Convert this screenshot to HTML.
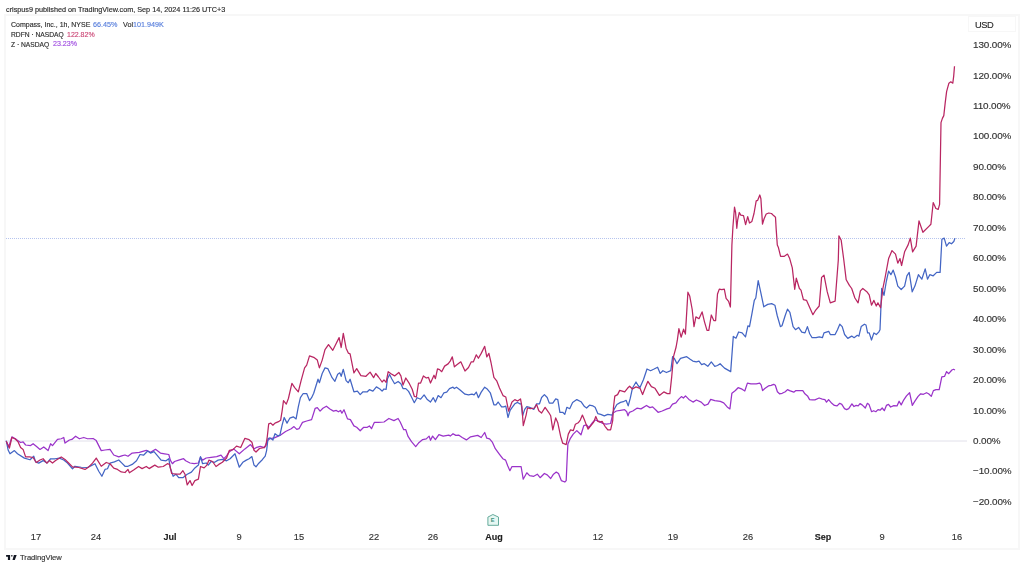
<!DOCTYPE html>
<html><head><meta charset="utf-8"><style>
html,body{margin:0;padding:0;}
body{width:1024px;height:568px;overflow:hidden;position:relative;background:#fff;font-family:"Liberation Sans",sans-serif;}
.frame{position:absolute;left:4px;top:14.2px;width:1016px;height:535.5px;background:#fff;border:2px solid #f7f7f7;box-sizing:border-box;}
.usd{position:absolute;left:968px;top:16.3px;width:47.6px;height:16.2px;border:1px solid #f7f7f7;box-sizing:border-box;}
.t{position:absolute;white-space:nowrap;font-family:"Liberation Sans",sans-serif;-webkit-text-stroke:0.15px currentColor;will-change:transform;}
.chart{position:absolute;left:0;top:0;}
</style></head><body>
<div class="frame"></div><div class="usd"></div>
<svg class="chart" width="1024" height="568" viewBox="0 0 1024 568">
<line x1="5" y1="441" x2="967" y2="441" stroke="#e1e0ea" stroke-width="1"/>
<line x1="6" y1="238.5" x2="966" y2="238.5" stroke="#b6c4ee" stroke-width="1" stroke-dasharray="1 1"/>
<polyline fill="none" stroke="#9a33c9" stroke-width="1.25" stroke-linejoin="round" points="6.25,441.25 8.75,446.9 11.9,436.9 16.25,439.4 20.6,442.5 23.1,441.9 25.6,445 30.6,445.6 33.1,443.75 36.25,446.25 40,449.4 43.75,446.9 48.1,450.6 50.6,443.75 52.5,445.6 57.5,439.4 61.25,438.75 63.75,437.5 65,443.1 69.4,440 71.9,439.4 75.6,436.25 79.4,438.75 83.75,437.5 87.5,438.75 93.1,438.5 96.25,440.6 101.25,450.6 105,450 110,449.4 113.75,455 118.75,456.9 122.5,455.6 125,455 128,456.25 132.2,453.1 139.3,452.4 146.3,450.3 150.5,452.4 155.5,449.3 160.4,453.1 164.6,453.8 168.8,454.5 170.3,460.1 172.4,463.7 174.5,461.5 178.7,460.1 183.6,458.7 185.7,460.8 190,463 194.2,463.7 198.4,463 200.5,457.3 202.6,460.1 206.2,458 211.1,457.3 216.7,456.6 221,455.2 223.8,458.7 226.6,455.9 229.4,451.7 233.6,448.9 239.3,453.8 244.9,448.9 250.5,444.6 254,448.9 256,447.7 260.2,446.3 264.5,447.7 267.3,440.7 270.1,438.6 274.3,437.9 280.6,435.1 285.6,431.5 291.2,428.7 294,426.6 296.8,429.4 299,428.7 302.5,422.4 306.7,421 311.6,419.6 315.2,408.3 317.3,407.6 320.1,411.1 322.9,408.3 326.4,406.2 329.9,409 333.5,411.1 336.3,410.4 338.4,411.8 340.5,410.4 341.9,413.2 344,409.7 347.5,418.9 350.4,419.6 353.9,425.9 356.7,427.3 360.2,430.8 363.7,427.3 367.3,427.3 369.4,425.9 371.5,428.7 374.3,422.4 378.5,422.4 384,422 388.9,418.5 393.9,420.6 398.1,418.5 400.2,422 403.7,429.7 405.8,429.7 407.9,436.1 411.5,441.7 415.7,446.6 418.5,443.1 422.7,439.6 426.3,438.9 429.1,436.1 430.5,440.3 432.6,436.1 435.4,439.6 438.9,434.6 443.2,436.1 448.8,435.1 450.2,436.1 453,433.7 455.8,435.4 458.6,435.1 462.2,437.5 466.4,439.9 470.6,436.8 474.1,436.1 477.7,435.4 481.2,437.5 484.7,432.5 486.8,438.2 489.6,438.9 492.5,442.4 495.3,448.7 499.5,454.4 502.8,458.7 505.6,460.1 507.7,465.8 509.9,470.7 512,466.5 515.5,466.5 521.1,466.5 523.2,479.2 526.8,472.8 529.6,475.6 533.8,476.3 537.3,474.2 540.1,477.7 544.4,473.5 547.2,474.9 550.7,478.5 553.5,474.2 556.3,472.1 558.5,473.5 561.3,480.6 564.8,482 566.2,480.6 567.3,455.2 567.9,443.9 570.4,438.3 573.2,434.1 576.8,430.6 581,434.8 583.8,425.6 586.6,424.9 588.7,427.7 592.3,422.8 595.1,420 599.3,421.4 602.8,423.5 606.4,424.2 610.6,423.5 613,413 616.4,411 620.5,410.3 624.6,409.6 626.7,411.7 628,415.8 629.4,412.3 632.8,411 636.9,408.2 641,408.9 646.5,405.5 649.9,407.6 652.6,406.9 656.1,410.3 658.1,412.3 662.2,411 667,408.9 669.7,408.2 672.5,404.1 675.9,402.8 678.6,399.4 681.4,396.6 683.4,398 685.5,395.9 688.9,399.4 693,402.1 696.4,400 701.2,402.1 704.6,405.5 708,404.1 710.7,399.4 714.8,400.7 720.3,401.4 723.7,402.8 727.2,406.9 729.9,408.9 731.9,393.2 735.4,390.5 738.1,387.7 742.1,389.2 744.8,391 747.4,383.1 750.9,383.9 756.2,383.9 759.7,383.1 761.1,384.8 762.6,390.6 764.8,388.5 768.4,385.9 771.1,385.3 773.7,384.3 775.3,385.3 777.4,391.7 779.5,393.8 782.2,393.3 785.3,391.7 787.5,389.6 789.6,390.6 793.8,392.2 795.9,390.6 798.5,390.6 802.8,390.6 804.9,393.8 807.5,395.9 809.6,399.6 812.3,399.9 814.9,399.9 819.1,398 822.3,399.1 824.9,399.6 826.5,402.2 828.6,399.6 831.8,403.3 834.4,405.4 837.1,405.9 839.7,403.3 841.8,404.4 844.5,408.6 846.6,409.6 848.7,408.6 851.9,403.8 854,406.5 856.1,405.4 858.2,405.9 860,403.6 862.1,404.9 865.3,408 867.4,403.3 869,404.4 871.6,411.7 873.7,410.7 875.8,411.7 878,409.6 880.1,410.2 882.2,408 884.3,410.7 886.4,405.4 888.5,404.4 890.6,407 893.8,405.6 897,405.9 899.1,401.2 901.2,404.9 903.3,400.7 906.5,395.9 909.6,392.7 912.3,405.4 914.9,401.2 918.1,396.4 920.7,393.8 923.4,394.3 926.5,392.7 928.6,393.8 931.3,396.4 933.4,390.6 936,389.6 939.2,389.6 941.8,376.9 944.5,376.4 946.6,371.6 948.7,373.7 951.9,370 953.5,369.3 955,370"/>
<polyline fill="none" stroke="#4365c4" stroke-width="1.25" stroke-linejoin="round" points="6.25,440.6 8.1,450 10,453.75 14.4,450.6 17.5,453.75 24.4,458.1 30,459.75 33.75,456.25 35.6,461.9 38.75,463.1 43.1,460.6 46.9,463.1 50.6,458.75 55,458.75 59.4,458.1 63.75,460 67.5,463.1 72.5,468.75 75,466.25 81.25,467.25 87.5,467.5 91.25,465.6 95,463.75 98.75,471.25 101.9,476.25 105,469.4 107.5,468.75 110,463.1 114.4,461.9 118.75,460 121.9,463.1 125,466.25 128,466.25 132.2,464.4 136.5,460.8 140,454.5 143.5,455.2 147.7,451 150.5,453.1 154,451.7 157.6,455.9 161.1,460.1 166,460.8 168.8,458.7 170.3,467.9 173.1,476.3 175.9,474.2 178.7,477.7 182.9,477.7 187.2,474.2 191.4,472.1 194.9,467.9 198.4,465.1 200.5,456.6 202.6,463.7 206.2,463 208.3,465.1 211.1,461.5 214.6,462.3 218.1,460.1 222.4,459.4 226.6,460.8 230.1,458.7 235,453.8 239.3,467.2 242.8,462.3 246.3,460.1 249.1,458.7 251.9,456.6 254,465.1 256,466.8 258.8,463.2 262.3,459.7 265.2,456.2 266.6,450.6 268,438.6 270.1,437.9 272.9,440 275,433.7 277.8,435.8 279.9,435.1 282.1,425.2 284.2,417.5 287,423.1 289.8,418.2 293.3,416.8 296.1,418.9 298.3,406.9 300.4,397.7 303.2,393.5 306.7,393.5 309.5,400.6 311.6,397.7 313.7,393.2 318,379.2 319.4,382.7 322.2,373.5 325,367.9 327.8,368.6 332.1,377.7 334.9,381.3 337.7,374.2 339.8,372.8 341.2,376.3 343.3,369.3 346.1,380.6 348.3,382.7 350.1,379.2 353.9,391.8 357.4,391.1 360.2,394.6 363,391.8 367.3,391.8 369.4,389.7 372.9,391.1 376.4,386.9 379.9,389 382.1,391.1 384,389 386.1,389.3 387.5,378.7 389.6,374.5 391.7,378.7 394.6,383.7 398.1,381.5 400.9,383.7 403,388.6 405.8,388.6 408.6,391.4 411.5,397 414.3,402.7 417.1,397.7 420.6,399.2 424.1,394.9 427,399.2 430.5,402 433.3,397.7 435.4,402 438.2,395.6 441,397.7 443.9,392.8 446.7,392.1 449.5,388.6 453,387.2 454.4,388.6 456.5,387.2 460.1,390 465,394.2 468.5,394.9 472,394.2 474.1,394.9 476.3,392.1 478.4,397.7 481.2,392.1 484.7,387.2 487.5,389.3 490.3,392.8 493.9,404.8 496,404.8 498.1,402 501.6,406.9 503.7,406.9 505.8,406.2 508,417.5 510.1,410.4 512,407.6 514.8,403.8 517.6,402.4 519.7,403.8 521.2,403.8 522.6,415.8 524.7,409.4 526.8,406.6 529.6,407.3 533.8,409.4 536.6,403.8 539.5,403.8 541.6,397.5 544.4,394.6 547.2,397.5 549.3,403.1 552.8,403.1 555.7,398.9 557.8,399.6 559.9,412.3 562.7,412.3 564.8,414.4 566.9,407.3 569.7,408.7 572.6,402.4 576.8,399.6 581,401.7 584.5,406.6 586.6,408 589.5,405.2 593,405.9 595.1,407.3 597.9,413.7 600.7,414.4 604.3,415.8 607.8,414.4 612,415.1 614.1,409.4 616.9,404.5 620.5,402.4 623.3,401.7 626.1,400.3 628.2,405.9 630.3,398.2 632.4,388.3 636,382 638.1,385.5 640,387.5 643.5,379.5 647,369 650.6,370.7 654.1,369 657.6,367.2 660.2,373.4 662.9,370.7 666.4,372.5 670.8,370.7 672.6,356.7 674.3,358.4 677,363.7 680.5,358.4 686.7,356.7 690.2,359.3 692.8,361.1 696.3,361.9 699,361.1 701.6,364.6 704.3,363.7 707.8,366.3 711.3,361.9 714.8,366.3 717.5,365.5 720.1,363.7 724.5,368.1 730.7,371.6 733.3,336.4 736,338.2 738.6,332 742.1,332.9 745.5,336.9 747.9,325.8 749.5,326.6 751.9,313.9 754.3,300.4 755.8,298 758.2,280.6 760.6,291.7 763.8,306.8 767.7,304.4 771.7,303.6 774.9,305.2 777.2,315.5 780.4,326.6 782,325.8 785.2,315.5 787.5,309.1 789.9,312.3 793.1,326.6 795.5,329.7 798.6,327.4 801.8,332.1 805,332.9 807.4,326.6 809.7,333.7 812.1,337.7 816.1,337.7 819.2,336.9 822.4,337.7 824,332.9 826.4,332.1 828.7,331.3 830.3,334.5 835.1,334.5 837.5,329.7 839.8,324.2 842.2,326.6 844.6,334.5 847.8,338.4 851.7,336.1 854.1,337.7 857.3,335.3 858.9,336.1 861.2,326.6 864.4,324.2 866,325 867.6,332.9 869.2,332.9 871.5,340 873.9,332.9 876.3,334.5 878.7,332.1 880,329.7 881.7,288.4 884,295.3 886.3,281.5 888.6,271.2 890.9,274.7 893.2,270.1 895.5,277 897.8,286.1 901.2,289.5 904.6,286.1 906.9,275.8 909.2,272.4 912.2,291.8 914.9,286.1 918.4,274.7 921.8,279.2 925.2,268.9 927.5,279.2 929.8,274.7 933.2,275.8 936.7,272.4 940.1,272.4 941.9,239.2 944.2,238.1 946.5,246.1 949.2,242.6 951.5,243.8 953.8,241.5 955,238.1"/>
<polyline fill="none" stroke="#b92662" stroke-width="1.25" stroke-linejoin="round" points="6.25,441.25 9.4,448.1 11.9,437.5 15,438.75 18.1,441.9 20.6,447.5 23.1,449.4 25.6,456.9 29.4,456.9 33.1,457.5 36.25,462.5 40,460 43.1,458.75 46.9,463.1 49.4,460.6 52.5,463.1 55.6,460.6 61.25,456.9 65,459.4 68.1,462.5 72.5,466.9 78.75,467.5 85,469.4 88.75,466.9 92.5,463.1 96.25,458.1 101.25,466.25 106.25,462.5 110,463.75 113.75,468.1 117.5,469.4 121.25,471.9 125,472.5 128,469.4 129.4,472.8 133.6,470 138.6,466.5 142.1,468.6 146.3,466.5 149.1,468.6 154.8,465.1 158.3,467.2 163.2,466.5 167.4,463.7 169.5,464.4 171.7,473.5 175.9,474.2 180.1,474.2 182.9,470.7 185,474.2 187.2,484.8 190,480.6 192.1,485.5 194.9,480.6 198.4,479.2 200.5,466.5 204.1,467.9 206.9,465.1 209,460.1 212.5,461.5 216,466.5 218.8,464.4 222.4,462.3 226.6,458 229.4,450.3 232.9,449.6 236.5,446.1 240.7,447.5 244.9,438.3 249.1,439.7 251.9,442.2 254,450.3 256,452 259.5,448.5 263.7,447.7 265.9,445.6 267.3,436.5 268.7,423.8 270.8,423.1 272.9,425.2 275,423.1 278.5,421.7 280.6,420.3 282.1,411.1 283.5,400.6 286.3,404.1 288.4,398.5 291.9,383.4 294.7,387.6 298.3,391.8 301.1,380.6 304.6,367.9 306.7,365.1 309.5,355.9 313.7,357.3 317.3,360.1 319.4,367.9 322.2,360.1 325,349.6 328.5,344.6 332.8,350.3 336.3,343.2 339.1,337.6 341.2,347.5 343.3,333.4 346.1,348.2 348.3,353.1 350.1,353.8 353.9,372.8 356.7,368.6 360.9,375.6 365.9,376.3 370.1,372.1 373.6,377.7 375.7,373.5 378.5,377 382.1,382 384,379.9 386.1,382.3 388.2,371.7 391,373.8 394.6,375.9 398.8,372.4 400.9,375.9 403,385.1 405.8,378 409.4,383.7 412.2,389.3 414.3,396.3 416.4,397 418.5,383 420.6,383 423.4,375.9 426.3,378 428.4,377.3 430.5,383 434,375.2 435.4,378.7 437.5,368.9 439.6,369.6 441.7,371.7 444.6,366.1 448.1,363.9 450.2,361.1 452.3,356.9 454.4,366.8 457.2,364.6 460.8,361.8 465,371 468.5,367.5 471.3,361.8 473.4,361.8 476.3,354.8 478.4,358.3 481.2,353.4 484.7,346.3 486.8,356.9 488.9,353.4 491,362.5 493.9,377.3 496.7,380.8 499.5,387.9 503,395.6 505.8,397 508.6,411.1 512,402 514.8,399.6 517.6,401 520.5,398.9 521.9,406.6 523.3,425.6 526.1,415.1 527.5,408 530.3,408.7 534.5,408 536.6,404.5 538.8,410.8 541.6,413 545.1,407.3 548.6,412.3 550.7,415.8 552.8,429.9 555.7,417.9 557.8,422.8 560.6,436.2 562.7,443.2 566.2,444.6 568.3,434.1 570.5,429.9 573.3,430.6 575.4,424.2 578.2,422.8 580.3,420 582.4,415.1 584.5,420 586.6,425.6 588.1,429.2 590.9,425.6 593.7,422.1 595.8,416.5 597.9,421.4 600,422.1 602.1,421.4 605,426.3 607.8,429.9 610.6,429.9 612.7,420.7 613.4,408 614.8,396.1 617.6,394.6 619.7,390.4 624.7,391.8 627.5,388.3 629.6,386.2 632.4,389 636,386.9 640,388.3 642.6,394.5 645.3,387.5 647.9,381.3 651.4,386.6 655,388.3 659.4,395.4 663.8,391.9 667.3,393.6 669.9,393.6 671.7,376.9 673.5,356.7 676.1,347 677.4,339.7 678.9,328.6 681.1,337.2 683.6,329.2 685.4,334.1 687.9,292.2 689.7,295.9 692.2,309.5 694,326.7 695.9,316.9 699,318.7 702.1,311.9 704.5,321.8 707,330.4 708.8,330.4 711.3,315 713.8,320.6 715.6,320.6 717.5,294 719.3,289.1 721.8,289.7 724.3,289.1 726.1,298.4 728.6,301.4 730.4,307 731.9,245 732.9,227.2 734.5,207.2 735.6,212.5 736.8,228.3 737.7,219.8 739.3,212.5 740.8,215.1 743.5,215.6 745.6,224.6 747.7,216.7 749.5,223 751.9,221.4 754,213.5 756.2,200.8 757.7,200.3 759.8,195 760.9,198.7 762.5,224.1 764.1,218.8 766.2,214 768.8,213 771.5,213.5 773.6,215.6 775.5,217.2 776.2,229.4 777.3,245 778.3,247.2 780.6,256.4 784,256.4 787.5,254.1 789.7,258.6 792.3,267.9 794.7,289.3 796.3,278.2 799.4,288.5 801,290.1 803.4,299.6 806.6,300.4 809.7,307.5 812.9,314.7 815.3,310.7 819.2,306 821.6,277.4 824,275.1 827.2,291.7 830.3,302.8 835.1,301.2 838.3,260 838.9,235.8 841.2,240.3 843.8,260 846.2,279.8 849.4,285.4 851.7,288.5 854.9,298 858.1,302.8 860.4,290.9 862.8,288.5 866.8,291.7 869.2,294.9 871.5,305.2 873.9,300.4 876.3,306 877.9,302.8 880.6,307.8 882.9,288.4 885.2,277 888.6,258.6 892,250.6 895.5,254.1 897.8,263.2 900,258.6 901.6,265.5 904.6,251.8 908.1,244.9 910.3,238.1 912.6,251.8 916.1,246.1 919,220.9 922.9,232.3 928.6,226.6 930.9,224.3 933.2,202.6 935.9,208.5 938.2,209.4 939.6,204.3 941,122.6 942.4,118.4 943.8,115.6 945.2,102.9 946.6,91.6 948.9,83.2 950.8,81.8 952.8,83.2 953.7,76.1 954.5,66.3"/>
<g transform="translate(493.2,520)">
<path d="M-5.3,-2.9 L-0.3,-5.5 L5.3,-2.9 L5.3,5.3 L-5.3,5.3 Z" fill="#e6f7f2" stroke="#56a292" stroke-width="0.9" stroke-linejoin="round"/>
<text x="-0.5" y="2.3" font-size="5.6" font-family="Liberation Sans" font-weight="700" fill="#3e9280" text-anchor="middle">E</text>
</g>
<g fill="#131722">
<path d="M6.1,554.9 H10.1 V560.1 H7.9 V556.7 H6.1 Z"/>
<circle cx="11.85" cy="555.85" r="0.8"/>
<path d="M13.9,554.9 H16.7 L14.8,560.1 H12.5 Z"/>
</g>
</svg>
<div class="t" style="left:6.00px;top:5.56px;font-size:7.25px;line-height:7.25px;color:#2b2b2b;font-weight:400;">crispus9 published on TradingView.com, Sep 14, 2024 11:26 UTC+3</div>
<div class="t" style="left:10.60px;top:20.87px;font-size:7.0px;line-height:7.0px;color:#2f2f2f;font-weight:400;">Compass, Inc., 1h, NYSE</div>
<div class="t" style="left:93.40px;top:20.71px;font-size:7.2px;line-height:7.2px;color:#5b80dc;font-weight:400;">66.45%</div>
<div class="t" style="left:122.90px;top:20.71px;font-size:7.2px;line-height:7.2px;color:#2f2f2f;font-weight:400;">Vol</div>
<div class="t" style="left:132.90px;top:20.71px;font-size:7.2px;line-height:7.2px;color:#5b80dc;font-weight:400;">101.949K</div>
<div class="t" style="left:10.80px;top:31.73px;font-size:6.7px;line-height:6.7px;color:#2f2f2f;font-weight:400;">RDFN · NASDAQ</div>
<div class="t" style="left:67.30px;top:31.47px;font-size:7.0px;line-height:7.0px;color:#cc4a78;font-weight:400;">122.82%</div>
<div class="t" style="left:10.70px;top:41.53px;font-size:6.7px;line-height:6.7px;color:#2f2f2f;font-weight:400;">Z · NASDAQ</div>
<div class="t" style="left:53.20px;top:41.19px;font-size:7.1px;line-height:7.1px;color:#a04ee0;font-weight:400;">23.23%</div>
<div class="t" style="left:973.10px;top:40.11px;font-size:9.9px;line-height:9.9px;color:#333;font-weight:400;letter-spacing:-0.11px;">130.00%</div>
<div class="t" style="left:973.10px;top:70.56px;font-size:9.9px;line-height:9.9px;color:#333;font-weight:400;letter-spacing:-0.11px;">120.00%</div>
<div class="t" style="left:973.10px;top:101.01px;font-size:9.9px;line-height:9.9px;color:#333;font-weight:400;letter-spacing:-0.11px;">110.00%</div>
<div class="t" style="left:973.10px;top:131.46px;font-size:9.9px;line-height:9.9px;color:#333;font-weight:400;letter-spacing:-0.11px;">100.00%</div>
<div class="t" style="left:973.10px;top:161.91px;font-size:9.9px;line-height:9.9px;color:#333;font-weight:400;letter-spacing:-0.11px;">90.00%</div>
<div class="t" style="left:973.10px;top:192.36px;font-size:9.9px;line-height:9.9px;color:#333;font-weight:400;letter-spacing:-0.11px;">80.00%</div>
<div class="t" style="left:973.10px;top:222.81px;font-size:9.9px;line-height:9.9px;color:#333;font-weight:400;letter-spacing:-0.11px;">70.00%</div>
<div class="t" style="left:973.10px;top:253.26px;font-size:9.9px;line-height:9.9px;color:#333;font-weight:400;letter-spacing:-0.11px;">60.00%</div>
<div class="t" style="left:973.10px;top:283.71px;font-size:9.9px;line-height:9.9px;color:#333;font-weight:400;letter-spacing:-0.11px;">50.00%</div>
<div class="t" style="left:973.10px;top:314.16px;font-size:9.9px;line-height:9.9px;color:#333;font-weight:400;letter-spacing:-0.11px;">40.00%</div>
<div class="t" style="left:973.10px;top:344.61px;font-size:9.9px;line-height:9.9px;color:#333;font-weight:400;letter-spacing:-0.11px;">30.00%</div>
<div class="t" style="left:973.10px;top:375.06px;font-size:9.9px;line-height:9.9px;color:#333;font-weight:400;letter-spacing:-0.11px;">20.00%</div>
<div class="t" style="left:973.10px;top:405.51px;font-size:9.9px;line-height:9.9px;color:#333;font-weight:400;letter-spacing:-0.11px;">10.00%</div>
<div class="t" style="left:973.10px;top:435.96px;font-size:9.9px;line-height:9.9px;color:#333;font-weight:400;letter-spacing:-0.11px;">0.00%</div>
<div class="t" style="left:973.10px;top:466.41px;font-size:9.9px;line-height:9.9px;color:#333;font-weight:400;letter-spacing:-0.11px;">−10.00%</div>
<div class="t" style="left:973.10px;top:496.86px;font-size:9.9px;line-height:9.9px;color:#333;font-weight:400;letter-spacing:-0.11px;">−20.00%</div>
<div class="t" style="left:974.60px;top:20.53px;font-size:9.3px;line-height:9.3px;color:#2a2a2a;font-weight:400;letter-spacing:-0.45px;">USD</div>
<div class="t" style="left:-64.30px;width:200px;text-align:center;top:532.63px;font-size:9.3px;line-height:9.3px;color:#333;font-weight:400;">17</div>
<div class="t" style="left:-4.50px;width:200px;text-align:center;top:532.63px;font-size:9.3px;line-height:9.3px;color:#333;font-weight:400;">24</div>
<div class="t" style="left:70.30px;width:200px;text-align:center;top:532.88px;font-size:9.0px;line-height:9.0px;color:#1e1e1e;font-weight:700;">Jul</div>
<div class="t" style="left:138.50px;width:200px;text-align:center;top:532.63px;font-size:9.3px;line-height:9.3px;color:#333;font-weight:400;">9</div>
<div class="t" style="left:198.80px;width:200px;text-align:center;top:532.63px;font-size:9.3px;line-height:9.3px;color:#333;font-weight:400;">15</div>
<div class="t" style="left:273.60px;width:200px;text-align:center;top:532.63px;font-size:9.3px;line-height:9.3px;color:#333;font-weight:400;">22</div>
<div class="t" style="left:333.40px;width:200px;text-align:center;top:532.63px;font-size:9.3px;line-height:9.3px;color:#333;font-weight:400;">26</div>
<div class="t" style="left:393.50px;width:200px;text-align:center;top:532.88px;font-size:9.0px;line-height:9.0px;color:#1e1e1e;font-weight:700;">Aug</div>
<div class="t" style="left:498.30px;width:200px;text-align:center;top:532.63px;font-size:9.3px;line-height:9.3px;color:#333;font-weight:400;">12</div>
<div class="t" style="left:572.90px;width:200px;text-align:center;top:532.63px;font-size:9.3px;line-height:9.3px;color:#333;font-weight:400;">19</div>
<div class="t" style="left:647.80px;width:200px;text-align:center;top:532.63px;font-size:9.3px;line-height:9.3px;color:#333;font-weight:400;">26</div>
<div class="t" style="left:722.50px;width:200px;text-align:center;top:532.88px;font-size:9.0px;line-height:9.0px;color:#1e1e1e;font-weight:700;">Sep</div>
<div class="t" style="left:782.10px;width:200px;text-align:center;top:532.63px;font-size:9.3px;line-height:9.3px;color:#333;font-weight:400;">9</div>
<div class="t" style="left:857.20px;width:200px;text-align:center;top:532.63px;font-size:9.3px;line-height:9.3px;color:#333;font-weight:400;">16</div>
<div class="t" style="left:19.60px;top:553.97px;font-size:7.6px;line-height:7.6px;color:#333;font-weight:400;">TradingView</div>
</body></html>
